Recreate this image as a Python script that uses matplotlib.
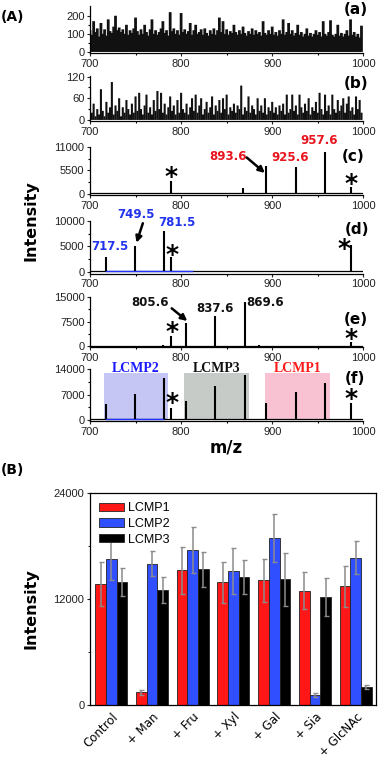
import matplotlib
matplotlib.use("Agg")
import matplotlib.pyplot as plt
from matplotlib.patches import Rectangle
import numpy as np

W, H = 379, 769
plt.rcParams['font.family'] = ['Liberation Sans', 'DejaVu Sans']

# ---------------- panel A data ----------------
mz_noise = np.arange(700, 1000, 2)
noise_a = [120, 95, 170, 110, 130, 85, 160, 100, 125, 90,
           180, 115, 105, 140, 200, 120, 135, 110, 125, 100,
           150, 95, 120, 105, 130, 190, 115, 95, 125, 100,
           150, 110, 90, 125, 180, 100, 120, 95, 110, 130,
           170, 105, 120, 90, 220, 115, 130, 100, 120, 95,
           215, 110, 125, 100, 115, 160, 95, 120, 150, 100,
           110, 125, 95, 130, 105, 90, 120, 100, 130, 95,
           120, 190, 110, 170, 100, 125, 95, 115, 105, 150,
           110, 95, 120, 100, 140, 105, 90, 115, 100, 130,
           95, 120, 100, 110, 90, 170, 105, 95, 120, 100,
           140, 95, 110, 90, 120, 100, 180, 95, 110, 160,
           100, 120, 90, 105, 150, 95, 110, 85, 100, 130,
           90, 105, 85, 100, 120, 95, 110, 85, 170, 100,
           90, 110, 175, 95, 85, 100, 150, 90, 105, 85,
           100, 120, 90, 180, 95, 110, 85, 100, 80, 145]
noise_b = [90, 20, 45, 10, 30, 15, 85, 25, 10, 50,
           20, 35, 105, 15, 40, 25, 60, 10, 35, 20,
           55, 30, 15, 45, 20, 65, 25, 75, 30, 15,
           40, 70, 20, 35, 15, 55, 25, 80, 30, 75,
           20, 45, 15, 35, 65, 25, 40, 15, 55, 20,
           75, 30, 20, 45, 15, 35, 60, 25, 70, 20,
           40, 60, 15, 30, 50, 20, 35, 65, 15, 40,
           25, 55, 20, 60, 30, 70, 15, 35, 25, 45,
           20, 40, 30, 95, 15, 35, 25, 65, 20, 40,
           30, 15, 60, 25, 40, 20, 60, 15, 35, 25,
           50, 20, 35, 15, 40, 25, 45, 15, 70, 20,
           30, 70, 25, 40, 15, 70, 35, 20, 45, 25,
           60, 15, 35, 25, 50, 20, 75, 30, 15, 70,
           25, 40, 15, 70, 30, 20, 55, 25, 40, 60,
           20, 45, 65, 25, 35, 15, 65, 30, 55, 20]

peaks_c_mz = [789, 868, 893.6, 925.6, 957.6, 986]
peaks_c_int = [3000, 1400, 6500, 6350, 9800, 1700]
peaks_d_mz = [717.5, 749.5, 781.5, 788.5, 925, 957, 986]
peaks_d_int = [2870, 5000, 8000, 2870, 200, 250, 5260]
peaks_e_mz = [780, 789, 805.6, 837.6, 869.6, 885, 986]
peaks_e_int = [300, 3080, 7080, 9240, 13460, 250, 1130]
peaks_f_mz = [717.5, 749.5, 781.5, 789, 805.6, 837.6, 869.6, 893.6, 925.6, 957.6, 986]
peaks_f_int = [4500, 7260, 11680, 3230, 5330, 9390, 12510, 4690, 7650, 10300, 4610]

regions = ["LCMP2", "LCMP3", "LCMP1"]
region_start = [715.5, 803, 892]
region_end = [785.5, 874.5, 963.5]
region_top = 12900
region_fill = ["#c6c6f4", "#c7cbc7", "#f8c2d3"]
region_text = ["#1a1aff", "#111111", "#ff1a1a"]

# ---------------- panel B data ----------------
treatments = ["Control", "+ Man", "+ Fru", "+ Xyl", "+ Gal", "+ Sia", "+ GlcNAc"]
lcmp1 = [13650, 1420, 15220, 13870, 14130, 12930, 13420]
lcmp2 = [16450, 15960, 17500, 15180, 18880, 1085, 16640]
lcmp3 = [13940, 12970, 15330, 14470, 14200, 12220, 2050]
err1 = [2500, 280, 2650, 2350, 2430, 2130, 2350]
err2 = [2270, 1420, 2580, 2580, 2730, 220, 1870]
err3 = [1570, 1460, 1970, 1870, 2980, 2160, 260]


def px_axes(fig, left, top, right, bottom):
    return fig.add_axes([left / W, 1 - bottom / H, (right - left) / W, (bottom - top) / H])


def fig_text(fig, x, y, s, **kw):
    fig.text(x / W, 1 - y / H, s, **kw)


def style_a(ax, ylim, yticks):
    ax.set_xlim(700, 1000)
    ax.set_ylim(*ylim)
    ax.spines[["top", "right"]].set_visible(False)
    ax.set_xticks([700, 800, 900, 1000])
    ax.set_xticks([750, 850, 950], minor=True)
    ax.set_yticks(yticks)
    ax.set_yticks([(a + b) / 2 for a, b in zip(yticks[:-1], yticks[1:])], minor=True)
    ax.tick_params(which="major", length=2.5, width=0.8, labelsize=8, pad=1.5, colors="#222222")
    ax.tick_params(which="minor", length=1.5, width=0.8)
    for s in ax.spines.values():
        s.set_linewidth(0.9)


def star(ax, x, y):
    ax.text(x, y, "*", fontsize=18, ha="center", va="center", family="DejaVu Sans",
            weight="bold")


def peak_label(ax, x, y, s, color):
    ax.text(x, y, s, fontsize=8.5, weight="bold", color=color, ha="center", va="center",
            family="DejaVu Sans")


def arrow(ax, xy, xytext):
    ax.annotate("", xy=xy, xytext=xytext,
                arrowprops=dict(arrowstyle="-|>", color="k", lw=1.8, mutation_scale=9,
                                shrinkA=0, shrinkB=0))


fig = plt.figure(figsize=(W / 100, H / 100), dpi=100)

# (a)
ax = px_axes(fig, 90, 6, 363.3, 53)
ax.vlines(mz_noise, 0, noise_a, color="#111111", lw=2.0, snap=False)
style_a(ax, (-6, 254), [0, 100, 200])

# (b)
ax = px_axes(fig, 90, 76.2, 363.3, 121)
ax.vlines(mz_noise, 0, noise_b, color="#111111", lw=1.5, snap=False)
style_a(ax, (-3, 121), [0, 60, 120])

# (c)
ax = px_axes(fig, 90, 146.7, 363.3, 195.1)
ax.axhline(150, color="k", lw=0.9)
ax.vlines(peaks_c_mz, 150, peaks_c_int, color="k", lw=1.5)
style_a(ax, (-250, 11000), [0, 5500, 11000])
peak_label(ax, 851, 8700, "893.6", "#e8141e")
peak_label(ax, 919.5, 8600, "925.6", "#e8141e")
peak_label(ax, 951, 12400, "957.6", "#e8141e")
arrow(ax, (892, 4900), (872, 8500))
star(ax, 789.5, 4000)
star(ax, 986.5, 2400)

# (d)
ax = px_axes(fig, 90, 220.7, 363.3, 273.5)
ax.axhline(120, color="k", lw=0.9)
ax.plot([718, 812], [120, 120], color="#2233ff", lw=1.0)
ax.vlines(peaks_d_mz, 120, peaks_d_int, color="k", lw=1.5)
style_a(ax, (-300, 10000), [0, 5000, 10000])
peak_label(ax, 721.5, 4930, "717.5", "#2233ee")
peak_label(ax, 750, 11300, "749.5", "#2233ee")
peak_label(ax, 795.5, 9690, "781.5", "#2233ee")
arrow(ax, (751, 5700), (758, 9500))
star(ax, 790, 3300)
star(ax, 979, 4500)

# (e)
ax = px_axes(fig, 90, 297.3, 363.3, 347.3)
ax.axhline(150, color="k", lw=0.9)
ax.vlines(peaks_e_mz, 150, peaks_e_int, color="k", lw=1.5)
style_a(ax, (-400, 15000), [0, 7500, 15000])
peak_label(ax, 765.5, 13460, "805.6", "#111111")
peak_label(ax, 837.2, 11400, "837.6", "#111111")
peak_label(ax, 892, 13460, "869.6", "#111111")
arrow(ax, (806.8, 7700), (789.7, 11600))
star(ax, 790, 4300)
star(ax, 986.5, 2100)

# (f)
ax = px_axes(fig, 90, 369.3, 363.3, 421.4)
for name, x0, x1, fc, tc in zip(regions, region_start, region_end, region_fill, region_text):
    ax.add_patch(Rectangle((x0, -150), x1 - x0, region_top + 150, facecolor=fc,
                           edgecolor="none", zorder=0))
    ax.text((x0 + x1) / 2, region_top + 1300, name, color=tc, fontsize=10, weight="bold",
            family="Liberation Serif", ha="center", va="center")
ax.axhline(150, color="k", lw=0.9)
ax.plot([718, 780], [150, 150], color="#2233ff", lw=1.0)
ax.vlines(peaks_f_mz, 150, peaks_f_int, color="k", lw=1.5)
style_a(ax, (-400, 14000), [0, 7000, 14000])
star(ax, 789.7, 4700)
star(ax, 986.5, 5800)

# panel A labels
for lab, x, y in [("(a)", 356, 10), ("(b)", 356, 83), ("(c)", 353, 156.7),
                  ("(d)", 357, 229), ("(e)", 356, 319.3), ("(f)", 355, 379)]:
    fig_text(fig, x, y, lab, fontsize=11, weight="bold", ha="center", va="center",
             family="DejaVu Sans")
fig_text(fig, 13, 17, "(A)", fontsize=10, weight="bold", ha="center", va="center",
         family="DejaVu Sans")
fig_text(fig, 31, 221, "Intensity", fontsize=11.5, weight="bold", rotation=90,
         ha="center", va="center", family="DejaVu Sans")
fig_text(fig, 226, 448, "m/z", fontsize=12, weight="bold", ha="center", va="center",
         family="DejaVu Sans")

# ---------------- panel B ----------------
fig_text(fig, 12, 470, "(B)", fontsize=10, weight="bold", ha="center", va="center",
         family="DejaVu Sans")
axb = px_axes(fig, 90, 492.7, 375.7, 705)
x = np.arange(len(treatments))
bw = 0.262
ekw = dict(ecolor="#8c8c8c", elinewidth=1.1, capsize=1.8, capthick=1.0)
axb.bar(x - bw, lcmp1, bw, yerr=err1, color="#ff1616", edgecolor="#222222", lw=0.6,
        label="LCMP1", error_kw=ekw)
axb.bar(x, lcmp2, bw, yerr=err2, color="#3050ff", edgecolor="#222222", lw=0.6,
        label="LCMP2", error_kw=ekw)
axb.bar(x + bw, lcmp3, bw, yerr=err3, color="#000000", edgecolor="#222222", lw=0.6,
        label="LCMP3", error_kw=ekw)
axb.set_xlim(-0.52, 6.49)
axb.set_ylim(0, 24000)
axb.set_yticks([0, 12000, 24000])
axb.set_yticks([6000, 18000], minor=True)
axb.set_xticks(x)
axb.set_xticklabels(treatments, rotation=45, ha="right", rotation_mode="anchor",
                    family="DejaVu Sans", fontsize=8.5)
axb.tick_params(axis="x", length=0, pad=4)
axb.tick_params(axis="y", which="major", length=2.5, labelsize=8, pad=1.5, colors="#222222")
axb.tick_params(axis="y", which="minor", length=1.5)
for s in axb.spines.values():
    s.set_linewidth(0.9)
axb.legend(loc="upper left", frameon=False, fontsize=9, handlelength=2.0,
           handleheight=0.65, labelspacing=0.3, borderaxespad=0.35, handletextpad=0.3)
fig_text(fig, 31, 609, "Intensity", fontsize=11.5, weight="bold", rotation=90,
         ha="center", va="center", family="DejaVu Sans")

fig.savefig("out.png", dpi=100)
